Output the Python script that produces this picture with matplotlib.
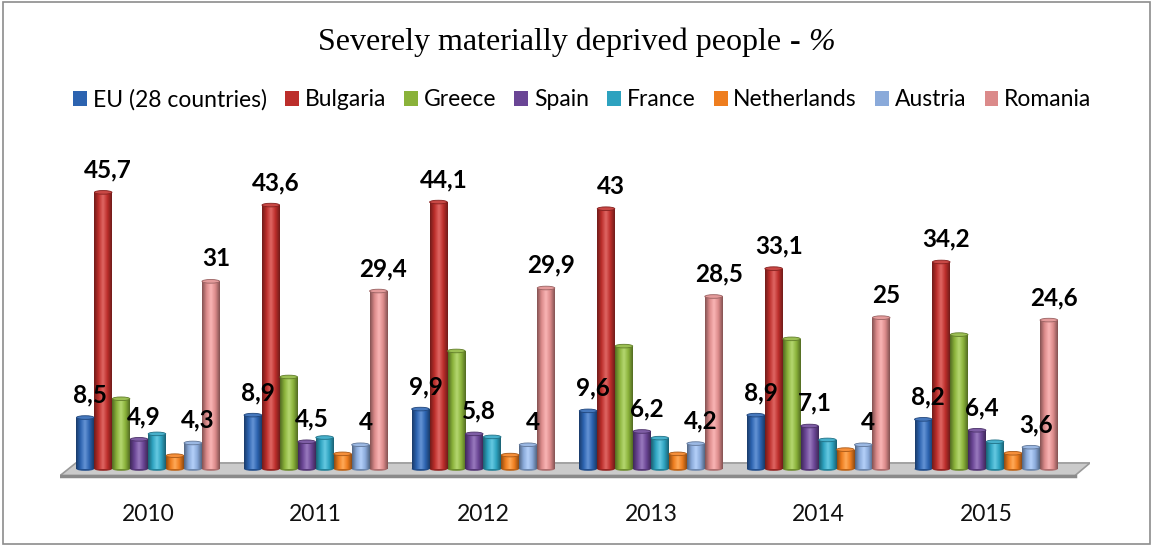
import numpy as np
import matplotlib
matplotlib.use("Agg")
import matplotlib.pyplot as plt
from matplotlib.patches import Polygon, Ellipse, Rectangle
from matplotlib.colors import LinearSegmentedColormap, to_rgb

years = ["2010", "2011", "2012", "2013", "2014", "2015"]
countries = ["EU (28 countries)", "Bulgaria", "Greece", "Spain", "France",
             "Netherlands", "Austria", "Romania"]

eu = [8.5, 8.9, 9.9, 9.6, 8.9, 8.2]
bulgaria = [45.7, 43.6, 44.1, 43.0, 33.1, 34.2]
greece = [11.6, 15.2, 19.5, 20.3, 21.5, 22.2]
spain = [4.9, 4.5, 5.8, 6.2, 7.1, 6.4]
france = [5.8, 5.2, 5.3, 5.1, 4.8, 4.5]
netherlands = [2.2, 2.5, 2.3, 2.5, 3.2, 2.6]
austria = [4.3, 4.0, 4.0, 4.2, 4.0, 3.6]
romania = [31.0, 29.4, 29.9, 28.5, 25.0, 24.6]

series = [eu, bulgaria, greece, spain, france, netherlands, austria, romania]
labelled = [True, True, False, True, False, False, True, True]
colors = ["#2C63B0", "#BC2E2B", "#8AB23A", "#6A4595", "#2DA2BF",
          "#EE7D1E", "#8AAADA", "#DB8A8A"]

UI_FONT = ["Lato", "DejaVu Sans"]

fig = plt.figure(figsize=(11.53, 5.48), dpi=100)
fig.patches.append(Rectangle((0.003, 0.008), 0.994, 0.988, transform=fig.transFigure,
                             fill=False, edgecolor="#8c8c8c", linewidth=1.2))

ax = fig.add_axes([60 / 1153, (548 - 490) / 548, 1030 / 1153, 340 / 548])
ax.axis("off")

# grey floor slab
floor = Polygon([(-0.525, -1.1), (-0.43, 1.0), (5.62, 1.0), (5.53, -1.1)],
                closed=True, facecolor="#cbcbcb", edgecolor="#9a9a9a", linewidth=1.2, zorder=1)
ax.add_patch(floor)
ax.plot([-0.525, 5.53], [-1.1, -1.1], color="#8a8a8a", linewidth=2.5, zorder=1)

bw = 0.107
x = np.arange(len(years))


def shade_cmap(c):
    r, g, b = to_rgb(c)
    dark = (r * 0.6, g * 0.6, b * 0.6)
    light = tuple(min(1, v * 0.85 + 0.25) for v in (r, g, b))
    return LinearSegmentedColormap.from_list("cyl", [dark, (r, g, b), light, (r, g, b), dark])


grad = np.linspace(0, 1, 64).reshape(1, -1)

for k, (vals, col) in enumerate(zip(series, colors)):
    cmap = shade_cmap(col)
    xs = x + (k - 3.5) * bw
    bars = ax.bar(xs, vals, width=bw * 0.98, color=col, zorder=3, linewidth=0)
    r, g, b = to_rgb(col)
    for bar, xc, v in zip(bars, xs, vals):
        im = ax.imshow(grad, extent=[xc - bw * 0.49, xc + bw * 0.49, 0, v],
                       cmap=cmap, aspect="auto", zorder=3, interpolation="bilinear")
        im.set_clip_path(bar)
        ax.add_patch(Ellipse((xc, v), bw * 0.98, 0.6,
                             facecolor=(min(1, r * 0.9 + 0.12), min(1, g * 0.9 + 0.12),
                                        min(1, b * 0.9 + 0.12)),
                             edgecolor=(r * 0.7, g * 0.7, b * 0.7), linewidth=0.6, zorder=4))
        ax.add_patch(Ellipse((xc, 0), bw * 0.98, 0.6, facecolor=(r * 0.8, g * 0.8, b * 0.8),
                             linewidth=0, zorder=2.9))
        if labelled[k]:
            txt = f"{v:g}".replace(".", ",")
            ax.annotate(txt, (xc + 0.03, v), xytext=(0, 8), textcoords="offset points",
                        ha="center", va="bottom", fontsize=17.5, fontweight="bold",
                        family=UI_FONT, color="black", zorder=5)

ax.set_xlim(-0.525, 5.62)
ax.set_ylim(-3.47, 52.7)

for xc, yr in zip(x, years):
    ax.annotate(yr, (xc, -3.47), xytext=(0, -10), textcoords="offset points",
                ha="center", va="top", fontsize=16.5, family=UI_FONT, color="#111111")

# title: regular text, bold dash, italic percent sign
t1 = fig.text(0.5, 0.922, "Severely materially deprived people", ha="left", va="center",
              fontsize=23, family="Liberation Serif")
t2 = fig.text(0, 0.922, "-", ha="left", va="center", fontsize=23,
              family="Liberation Serif", fontweight="bold")
t3 = fig.text(0, 0.922, "%", ha="left", va="center", fontsize=23,
              family="Liberation Serif", style="italic")
fig.canvas.draw()
rend = fig.canvas.get_renderer()
gap = 8
w1 = t1.get_window_extent(rend).width
w2 = t2.get_window_extent(rend).width
w3 = t3.get_window_extent(rend).width
x0 = (1153 - (w1 + w2 + w3 + 2 * gap)) / 2
t1.set_x(x0 / 1153)
t2.set_x((x0 + w1 + gap) / 1153)
t3.set_x((x0 + w1 + w2 + 2 * gap) / 1153)

handles = [Rectangle((0, 0), 1, 1, facecolor=c) for c in colors]
fig.legend(handles, countries, loc="center", bbox_to_anchor=(0.505, 0.818), ncol=8,
           frameon=False, prop={"family": UI_FONT, "size": 16.5},
           handlelength=0.6, handleheight=0.6, handletextpad=0.25, columnspacing=0.8)

fig.savefig("out.png", dpi=100)
